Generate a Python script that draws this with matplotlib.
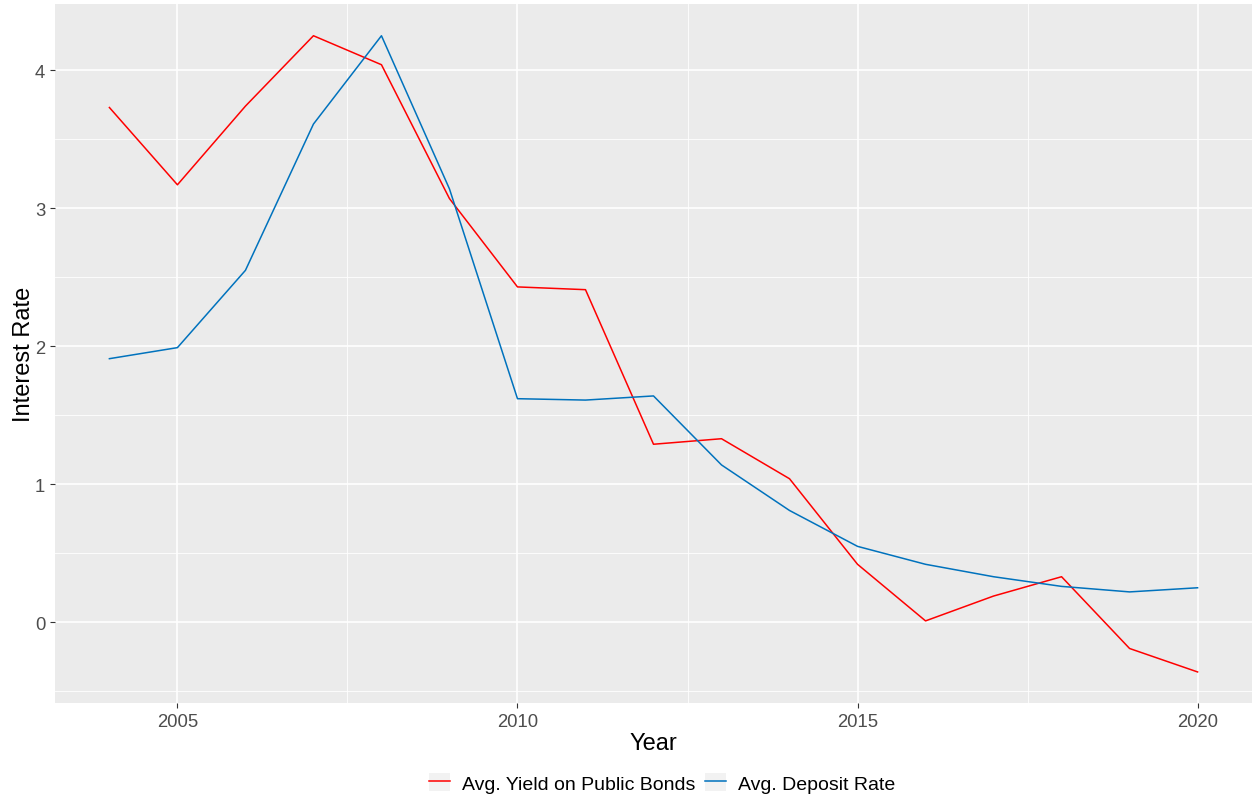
import matplotlib
matplotlib.use("Agg")
import matplotlib.pyplot as plt
from matplotlib.lines import Line2D
from matplotlib.patches import Patch

plt.rcParams['font.family'] = ['Liberation Sans', 'DejaVu Sans']

years = list(range(2004, 2021))
bonds = [3.73, 3.17, 3.74, 4.25, 4.04, 3.07, 2.43, 2.41, 1.29, 1.33, 1.04,
         0.42, 0.01, 0.19, 0.33, -0.19, -0.36]
deposit = [1.91, 1.99, 2.55, 3.61, 4.25, 3.14, 1.62, 1.61, 1.64, 1.14, 0.81,
           0.55, 0.42, 0.33, 0.26, 0.22, 0.25]
labels = ["Avg. Yield on Public Bonds", "Avg. Deposit Rate"]
colors = ["#FF0000", "#0072BD"]

fig = plt.figure(figsize=(12.54, 8.03), dpi=100)
ax = fig.add_axes([55/1254, 1-704/803, (1252-55)/1254, (704-5)/803])
ax.set_facecolor("#EBEBEB")

# сетка в стиле ggplot
for v in [-0.5, 0.5, 1.5, 2.5, 3.5]:
    ax.axhline(v, color="white", lw=0.6, zorder=0)
for v in [0, 1, 2, 3, 4]:
    ax.axhline(v, color="white", lw=1.2, zorder=0)
for v in [2007.5, 2012.5, 2017.5]:
    ax.axvline(v, color="white", lw=0.6, zorder=0)
for v in [2005, 2010, 2015, 2020]:
    ax.axvline(v, color="white", lw=1.2, zorder=0)

ax.plot(years, bonds, color=colors[0], lw=1.1, zorder=3)
ax.plot(years, deposit, color=colors[1], lw=1.1, zorder=3)

ax.set_xlim(2003.2, 2020.8)
ax.set_ylim(-0.585, 4.48)
ax.set_xticks([2005, 2010, 2015, 2020])
ax.set_yticks([0, 1, 2, 3, 4])
for s in ax.spines.values():
    s.set_visible(False)
ax.tick_params(colors="#333333", labelcolor="#4D4D4D", labelsize=13.3, length=3.5, width=0.8)
ax.set_xlabel("Year", fontsize=17, labelpad=2)
ax.set_ylabel("Interest Rate", fontsize=17, labelpad=0)

# ключи легенды на сером фоне, как в ggplot
handles = [(Patch(facecolor="#F2F2F2", edgecolor="none"), Line2D([], [], color=c, lw=1.1))
           for c in colors]
leg = fig.legend(handles, labels, loc="center", bbox_to_anchor=(0.528, 1-784/803), ncol=2,
                 frameon=False, fontsize=14, handlelength=1.07, handleheight=1.07,
                 handletextpad=0.6, columnspacing=0.5, borderaxespad=0)
fig.savefig("out.png", dpi=100)
